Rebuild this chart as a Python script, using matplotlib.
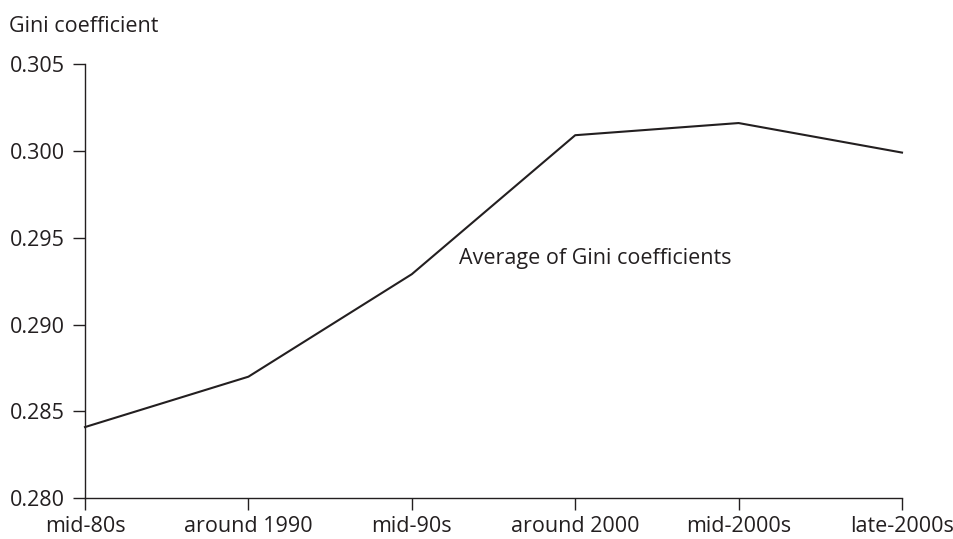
import matplotlib.pyplot as plt

plt.rcParams['font.family'] = ['Open Sans', 'DejaVu Sans']

periods = ["mid-80s", "around 1990", "mid-90s", "around 2000", "mid-2000s", "late-2000s"]
gini_avg = [0.2841, 0.2870, 0.2929, 0.3009, 0.3016, 0.2999]
y_ticks = [0.280, 0.285, 0.290, 0.295, 0.300, 0.305]

ink = "#231f20"
fs = 15.5

fig = plt.figure(figsize=(9.54, 5.39), dpi=100)
ax = fig.add_axes([0.0891, 0.0755, 0.8564, 0.8058])

x = list(range(len(periods)))
ax.plot(x, gini_avg, color=ink, linewidth=1.5, clip_on=False)

ax.set_xlim(0, len(periods) - 1)
ax.set_ylim(0.280, 0.305)
ax.set_xticks(x)
ax.set_xticklabels(periods)
ax.set_yticks(y_ticks)
ax.set_yticklabels(["%.3f" % v for v in y_ticks])

for side in ["top", "right"]:
    ax.spines[side].set_visible(False)
for side in ["left", "bottom"]:
    ax.spines[side].set_color(ink)
    ax.spines[side].set_linewidth(1.0)

ax.tick_params(axis="both", direction="out", length=8.5, width=1.0,
               color=ink, labelcolor=ink, labelsize=fs)
ax.tick_params(axis="y", pad=6)
ax.tick_params(axis="x", pad=4)

ax.text(2.29, 0.29378, "Average of Gini coefficients", fontsize=fs,
        color=ink, ha="left", va="center")

fig.text(9 / 954, 1 - 27 / 539, "Gini coefficient", fontsize=fs,
         color=ink, ha="left", va="center")

fig.savefig("out.png", dpi=100)
